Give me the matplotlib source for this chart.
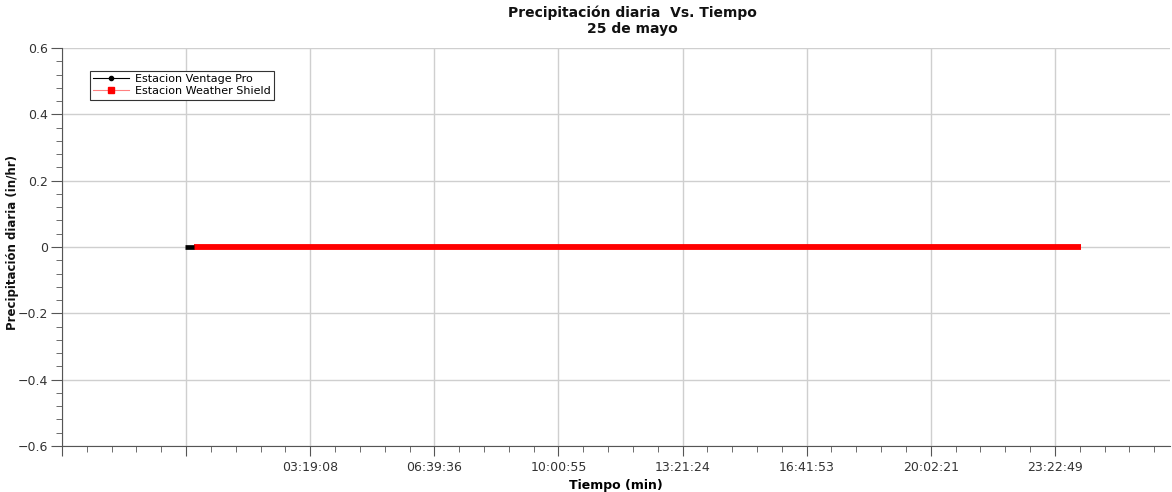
"""Precipitacion diaria vs tiempo, 25 de mayo."""

import matplotlib

matplotlib.use("Agg")
import matplotlib.pyplot as plt
import numpy as np
from matplotlib.lines import Line2D
from matplotlib.ticker import FixedLocator, MultipleLocator

# time in seconds from midnight
ventage_t = [-206, 696]
ventage_val = [0.0, 0.0]
shield_t = [696, 86642]
shield_val = [0.0, 0.0]

tick_labels = ["", "", "03:19:08", "06:39:36", "10:00:55", "13:21:24",
               "16:41:53", "20:02:21", "23:22:49", ""]

plt.rcParams.update({"font.family": "DejaVu Sans", "figure.facecolor": "white"})

fig = plt.figure(figsize=(11.72, 4.92), dpi=100)
ax = fig.add_axes([62 / 1172, 1 - 446 / 492, (1170 - 62) / 1172, (446 - 48) / 492])

ax.plot(ventage_t, ventage_val, color="black", lw=3.4, solid_capstyle="butt",
        label="Estacion Ventage Pro", zorder=4)
ax.plot(shield_t, shield_val, color="#ff0000", lw=4.2, solid_capstyle="butt",
        label="Estacion Weather Shield", zorder=3)

step = 12028
major = np.arange(-12108, 96200, step)
ax.xaxis.set_major_locator(FixedLocator(major))
ax.xaxis.set_minor_locator(FixedLocator(np.arange(-12108, 96200, step / 5)))
ax.set_xticklabels(tick_labels[: len(major)])
ax.set_xlim(-12108, 95274)

ax.set_ylim(-0.6, 0.6)
ax.yaxis.set_major_locator(MultipleLocator(0.2))
ax.yaxis.set_minor_locator(MultipleLocator(0.04))
ax.set_yticklabels([("0" if abs(v) < 1e-9 else f"{v:.1f}").replace("-", "\u2212")
                    for v in ax.get_yticks()])

ax.grid(True, which="major", color="#cfcfcf", lw=1.0)
ax.set_axisbelow(True)
for s in ("top", "right"):
    ax.spines[s].set_visible(False)
for s in ("left", "bottom"):
    ax.spines[s].set_color("#555555")
ax.tick_params(which="major", length=7, color="#555555", labelsize=9, labelcolor="#333333")
ax.tick_params(which="minor", length=4, color="#555555")
ax.tick_params(axis="y", which="major", length=8, pad=2)

handles = [
    Line2D([], [], color="black", lw=0.8, marker="o", markersize=3),
    Line2D([], [], color="#ff8080", lw=0.8, marker="s", markersize=4,
           markerfacecolor="red", markeredgecolor="red"),
]
leg = ax.legend(handles, ["Estacion Ventage Pro", "Estacion Weather Shield"],
                loc="upper left", bbox_to_anchor=(0.025, 0.943), fontsize=8,
                fancybox=False, framealpha=1, edgecolor="#333333",
                handlelength=3.2, borderpad=0.3, labelspacing=0.2, handletextpad=0.6,
                borderaxespad=0)
leg.get_frame().set_linewidth(0.8)

fig.text(632 / 1172, 1 - 21 / 492, "Precipitación diaria  Vs. Tiempo\n25 de mayo",
         ha="center", va="center", fontsize=10, fontweight="bold",
         linespacing=1.2, color="#111111")
ax.set_xlabel("Tiempo (min)", fontsize=9, fontweight="bold", labelpad=4)
fig.text(13 / 1172, 1 - 242 / 492, "Precipitación diaria (in/hr)", rotation=90,
         ha="center", va="center", fontsize=8.5, fontweight="bold", color="#111111")

fig.savefig("out.png", dpi=100)
